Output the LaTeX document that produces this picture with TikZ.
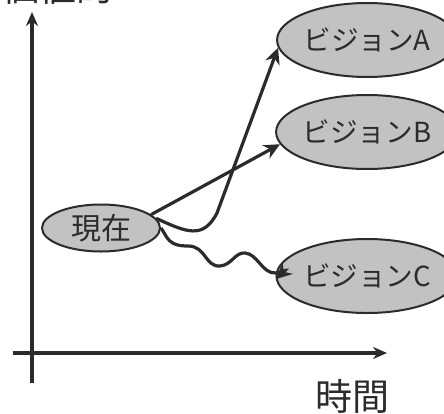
\documentclass[tikz,border=0pt]{standalone}
\usepackage{fontspec}
\setmainfont{Noto Sans CJK JP}
\usetikzlibrary{arrows.meta,positioning,shapes.geometric}
\definecolor{ovalgray}{HTML}{C2C2C2}
\definecolor{inkgray}{HTML}{2B2B2B}

\begin{document}
\begin{tikzpicture}[x=0.5pt, y=-0.5pt,
  vision/.style={draw=inkgray, fill=ovalgray, ellipse, line width=1pt,
                 minimum width=69.5pt, minimum height=37pt, inner sep=0pt,
                 font=\fontsize{13.8}{14}\selectfont, text=inkgray},
  nowbox/.style={draw=inkgray, fill=ovalgray, ellipse, line width=1pt,
                 minimum width=59pt, minimum height=23.5pt, inner sep=0pt,
                 font=\fontsize{15}{16}\selectfont, text=inkgray},
  axislabel/.style={font=\fontsize{18.5}{19}\selectfont, text=inkgray,
                    inner sep=0pt},
  axis/.style={-{Stealth[length=7pt, width=6pt]}, line width=1.6pt, inkgray},
  arr/.style={-{Stealth[length=8pt, width=7.5pt]}, line width=1.6pt, inkgray},
]
  \useasboundingbox (0,0) rectangle (444,413);

  %% Axes
  \coordinate (ybot) at (32,383);
  \coordinate (ytop) at (32,12);
  \coordinate (xleft) at (13,353);
  \coordinate (xright) at (387,353);
  \draw[axis] (ybot) -- (ytop);
  \draw[axis] (xleft) -- (xright);

  \node[axislabel, anchor=base west] (vlabel) at (2,1) {価値的};
  \node[axislabel] (tlabel) at (352,396) {時間};

  %% Present and the three visions
  \node[nowbox] (now) at (101,228) {現在};
  \node[vision] (visA) at (367,40) {ビジョンA};
  \node[vision, below=8pt of visA] (visB) {ビジョンB};
  \node[vision, below=34pt of visB] (visC) {ビジョンC};

  %% Paths from the present
  \draw[arr] (now.15) -- (visB.188);
  \draw[arr] (now.10) .. controls (186,232) and (203,240) .. (217,213)
    -- (visA.185);
  \draw[arr] (now.east) .. controls (168,238) and (168,246) .. (188,246)
    .. controls (206,246) and (205,267) .. (220,266)
    .. controls (232,265) and (235,252) .. (245,253)
    .. controls (258,254) and (262,274) .. (276,273)
    .. controls (283,272) and (288,268) .. (visC.182);
\end{tikzpicture}
\end{document}
